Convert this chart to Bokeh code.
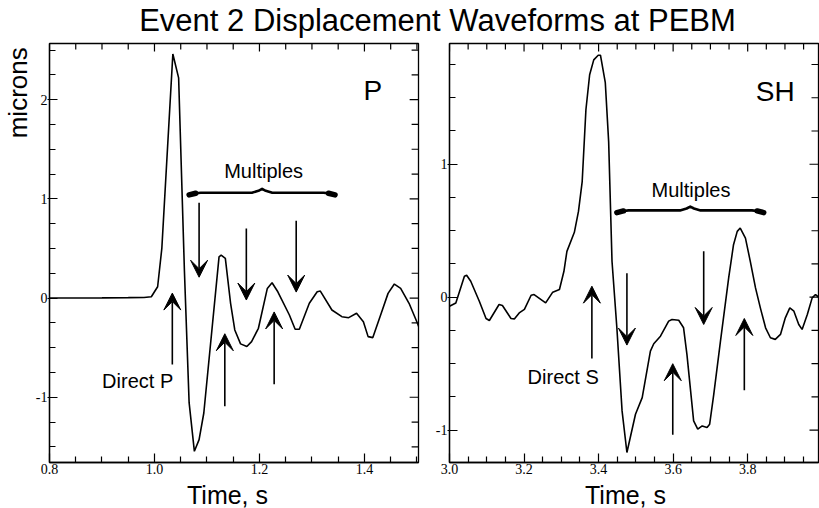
import numpy as np
from math import pi
from bokeh.plotting import figure
from bokeh.models import (Label, Arrow, VeeHead, ColumnDataSource, FixedTicker, Range1d)
from bokeh.layouts import column, row
from bokeh.embed import file_html
from bokeh.resources import INLINE

# ---------------- data ----------------
title_text = "Event 2 Displacement Waveforms at PEBM"
y_title = "microns"
x_title = "Time, s"

p_time = [0.800, 0.850, 0.900, 0.950, 0.980, 0.994, 1.006, 1.014, 1.035, 1.046,
          1.057, 1.066, 1.076, 1.085, 1.094, 1.123, 1.127, 1.135, 1.145, 1.153,
          1.164, 1.176, 1.185, 1.198, 1.215, 1.224, 1.235, 1.257, 1.268, 1.276,
          1.295, 1.310, 1.316, 1.338, 1.357, 1.370, 1.385, 1.398, 1.407, 1.416,
          1.432, 1.445, 1.457, 1.469, 1.485, 1.501, 1.507]
p_disp = [0.000, 0.001, 0.002, 0.004, 0.006, 0.013, 0.114, 0.500, 2.460, 2.220,
          0.280, -1.055, -1.545, -1.427, -1.159, 0.415, 0.432, 0.399, -0.053, -0.322,
          -0.462, -0.489, -0.439, -0.305, 0.097, 0.154, 0.063, -0.171, -0.315, -0.315,
          -0.053, 0.063, 0.070, -0.121, -0.188, -0.198, -0.154, -0.238, -0.389, -0.399,
          -0.154, 0.047, 0.141, 0.098, -0.053, -0.254, -0.340]

sh_time = [3.000, 3.017, 3.040, 3.046, 3.057, 3.080, 3.098, 3.107, 3.133, 3.142,
           3.165, 3.174, 3.187, 3.201, 3.219, 3.227, 3.258, 3.277, 3.295, 3.307,
           3.315, 3.335, 3.346, 3.356, 3.366, 3.376, 3.387, 3.399, 3.405, 3.418,
           3.427, 3.436, 3.449, 3.463, 3.476, 3.485, 3.499, 3.517, 3.539, 3.548,
           3.566, 3.588, 3.597, 3.615, 3.628, 3.637, 3.655, 3.666, 3.678, 3.691,
           3.698, 3.709, 3.727, 3.749, 3.762, 3.772, 3.780, 3.794, 3.807, 3.821,
           3.834, 3.848, 3.861, 3.874, 3.888, 3.901, 3.913, 3.924, 3.937, 3.946,
           3.960, 3.973, 3.982, 3.993]
sh_disp = [-0.068, -0.043, 0.158, 0.165, 0.120, -0.030, -0.160, -0.175, -0.055, -0.062,
           -0.160, -0.163, -0.118, -0.092, 0.015, 0.020, -0.043, 0.038, 0.058, 0.195,
           0.345, 0.488, 0.645, 0.870, 1.410, 1.673, 1.785, 1.820, 1.820, 1.613,
           1.170, 0.270, -0.230, -0.855, -1.168, -1.055, -0.880, -0.755, -0.405, -0.350,
           -0.293, -0.180, -0.167, -0.173, -0.230, -0.430, -0.930, -0.992, -0.968, -0.980,
           -0.955, -0.730, -0.330, 0.145, 0.395, 0.495, 0.520, 0.445, 0.270, 0.070,
           -0.080, -0.230, -0.305, -0.317, -0.280, -0.155, -0.080, -0.105, -0.205, -0.242,
           -0.130, -0.005, 0.020, -0.005]

p_xticks = [0.8, 1.0, 1.2, 1.4]
p_xtick_labels = ["0.8", "1.0", "1.2", "1.4"]
p_yticks = [-1, 0, 1, 2]
p_ytick_labels = ["-1", "0", "1", "2"]
sh_xticks = [3.0, 3.2, 3.4, 3.6, 3.8]
sh_xtick_labels = ["3.0", "3.2", "3.4", "3.6", "3.8"]
sh_yticks = [-1, 0, 1]
sh_ytick_labels = ["-1", "0", "1"]

# arrows: x, start y, tip y
p_arrow_x = [1.085, 1.175, 1.270, 1.034, 1.134, 1.228]
p_arrow_from = [0.96, 0.70, 0.78, -0.67, -1.09, -0.87]
p_arrow_to = [0.21, -0.02, 0.06, 0.05, -0.36, -0.14]
sh_arrow_x = [3.382, 3.476, 3.599, 3.682, 3.791]
sh_arrow_from = [-0.46, 0.18, -1.035, 0.345, -0.70]
sh_arrow_to = [0.083, -0.36, -0.50, -0.205, -0.16]

# braces: start x, end x, y
p_brace = [1.066, 1.344, 1.062]
sh_brace = [3.449, 3.843, 0.653]

FONT = "Liberation Sans"
TICKFONT = "Liberation Sans Narrow"
W = 819


def strip(width, height):
    s = figure(width=width, height=height, title=None,
               x_range=Range1d(0, width), y_range=Range1d(0, height),
               toolbar_location=None, output_backend="svg", min_border=0,
               x_axis_location=None, y_axis_location=None, outline_line_color=None)
    s.grid.visible = False
    return s


def style_axes(p, xr, yr, ppx, ppy, xticks, xlabels, xminor, yticks, ylabels, yminor,
               ytick_out, ystandoff):
    xa = p.xaxis[0]
    xa.ticker = FixedTicker(ticks=xticks, minor_ticks=xminor)
    xa.major_label_overrides = {t: s for t, s in zip(xticks, xlabels)}
    ya = p.yaxis[0]
    ya.ticker = FixedTicker(ticks=yticks, minor_ticks=yminor)
    ya.major_label_overrides = {t: s for t, s in zip(yticks, ylabels)}
    for ax in (xa, ya):
        ax.axis_line_width = 1.3
        ax.major_tick_line_width = 1.2
        ax.minor_tick_line_width = 1.2
        ax.major_label_text_font = TICKFONT
        ax.major_label_text_font_size = "14px"
        ax.major_label_text_color = "black"
        ax.axis_line_color = "black"
        ax.major_tick_line_color = "black"
        ax.minor_tick_line_color = "black"
    xa.major_tick_in = 9
    xa.major_tick_out = 0
    xa.minor_tick_in = 6
    xa.minor_tick_out = 0
    xa.major_label_standoff = 1
    ya.major_tick_in = 8
    ya.major_tick_out = ytick_out
    ya.minor_tick_in = 6
    ya.minor_tick_out = 0
    ya.major_label_standoff = ystandoff
    # mirrored inward ticks on the top and right edges
    tx = list(xticks) + list(xminor)
    tl = [8.0] * len(xticks) + [6.0] * len(xminor)
    p.segment(x0=tx, x1=tx, y0=[yr[1]] * len(tx), y1=[yr[1] - l / ppy for l in tl],
              line_color="black", line_width=1.2)
    ty = list(yticks) + list(yminor)
    tl = [9.0] * len(yticks) + [7.0] * len(yminor)
    p.segment(x0=[xr[1]] * len(ty), x1=[xr[1] - l / ppx for l in tl], y0=ty, y1=ty,
              line_color="black", line_width=1.2)


def draw_brace(p, br, ppy):
    x0, x1, y = br
    w = x1 - x0
    xm = (x0 + x1) / 2
    de = 2.8 / ppy
    dp = 3.8 / ppy
    bx = [x0, x0 + 0.03 * w, x0 + 0.08 * w, xm - 0.07 * w, xm - 0.025 * w, xm,
          xm + 0.025 * w, xm + 0.07 * w, x1 - 0.08 * w, x1 - 0.03 * w, x1]
    by = [y - de, y - 0.3 * de, y, y, y + 0.5 * dp, y + dp,
          y + 0.5 * dp, y, y, y - 0.3 * de, y - de]
    p.line(bx, by, line_width=2.6, color="black", line_join="round", line_cap="round")
    p.line([x0, x0 + 0.045 * w], [y - 0.8 * de, y - 0.2 * de], line_width=5.5,
           color="black", line_cap="round")
    p.line([x1 - 0.045 * w, x1], [y - 0.2 * de, y - 0.8 * de], line_width=5.5,
           color="black", line_cap="round")


def add_arrows(p, xs, y0s, y1s):
    src = ColumnDataSource(dict(x=xs, y0=y0s, y1=y1s))
    p.add_layout(Arrow(end=VeeHead(size=17, fill_color="black", line_color="black"),
                       x_start="x", y_start="y0", x_end="x", y_end="y1",
                       line_width=1.6, line_color="black", source=src))


def txt(p, x, y, s, size, angle=0.0):
    # anchored at the visual middle of the capitals
    p.add_layout(Label(x=x, y=y, text=s, text_font=FONT, text_font_size=size,
                       text_align="center", text_baseline="middle",
                       text_color="black", angle=angle))


def panel(xr, yr, fw, fh, L, R, T, B):
    p = figure(width=L + fw + R, height=T + fh + B, title=None,
               x_range=Range1d(*xr), y_range=Range1d(*yr),
               toolbar_location=None, output_backend="svg",
               min_border_left=L, min_border_right=R, min_border_top=T, min_border_bottom=B)
    p.grid.visible = False
    p.outline_line_color = "black"
    p.outline_line_width = 1.3
    return p


# ---------------- layout sizes ----------------
TOP_H, MID_H, BOT_H = 38, 442, 28
YL_W = 32

# ---------------- title strip ----------------
pt = strip(W, TOP_H)
txt(pt, 437, TOP_H - 19.5, title_text, "31px")

# ---------------- y label strip ----------------
pyl = strip(YL_W, MID_H)
txt(pyl, 17.5, MID_H - (90 - TOP_H), y_title, "26px", angle=pi / 2)

# ---------------- P panel ----------------
p1_xr = (0.8, 1.503)
p1_yr = (-1.658, 2.566)
fw1, fh1 = 375, 420
p1 = panel(p1_xr, p1_yr, fw1, fh1, 11, 12, 5, 17)
ppx1 = fw1 / (p1_xr[1] - p1_xr[0])
ppy1 = fh1 / (p1_yr[1] - p1_yr[0])
style_axes(p1, p1_xr, p1_yr, ppx1, ppy1, p_xticks, p_xtick_labels,
           [round(v, 3) for v in np.arange(0.85, 1.5001, 0.05) if round(v, 3) not in p_xticks],
           p_yticks, p_ytick_labels,
           [round(v, 3) for v in np.arange(-1.5, 2.51, 0.25) if round(v, 3) not in p_yticks],
           2, 0)
p1.line(p_time, p_disp, line_width=1.6, color="black")
add_arrows(p1, p_arrow_x, p_arrow_from, p_arrow_to)
draw_brace(p1, p_brace, ppy1)
txt(p1, 1.208, 1.276, "Multiples", "20px")
txt(p1, 0.968, -0.838, "Direct P", "20px")
txt(p1, 1.416, 2.089, "P", "28px")

# ---------------- SH panel ----------------
p2_xr = (3.0, 3.99)
p2_yr = (-1.243, 1.908)
fw2, fh2 = 369, 420
p2 = panel(p2_xr, p2_yr, fw2, fh2, 19, 1, 4, 18)
ppx2 = fw2 / (p2_xr[1] - p2_xr[0])
ppy2 = fh2 / (p2_yr[1] - p2_yr[0])
style_axes(p2, p2_xr, p2_yr, ppx2, ppy2, sh_xticks, sh_xtick_labels,
           [round(v, 3) for v in np.arange(3.05, 3.99, 0.05) if round(v, 3) not in sh_xticks],
           sh_yticks, sh_ytick_labels,
           [round(v, 3) for v in np.arange(-1.25, 1.91, 0.25) if round(v, 3) not in sh_yticks],
           2, 0)
p2.line(sh_time, sh_disp, line_width=1.6, color="black")
add_arrows(p2, sh_arrow_x, sh_arrow_from, sh_arrow_to)
draw_brace(p2, sh_brace, ppy2)
txt(p2, 3.648, 0.805, "Multiples", "20px")
txt(p2, 3.305, -0.6025, "Direct S", "20px")
txt(p2, 3.874, 1.5435, "SH", "28px")

# ---------------- x label strip ----------------
pxl = strip(W, BOT_H)
txt(pxl, 227, BOT_H / 2, x_title, "25px")
txt(pxl, 625, BOT_H / 2, x_title, "25px")

layout = column(pt, row(pyl, p1, p2), pxl)
open("out.html", "w").write(file_html(layout, INLINE))
